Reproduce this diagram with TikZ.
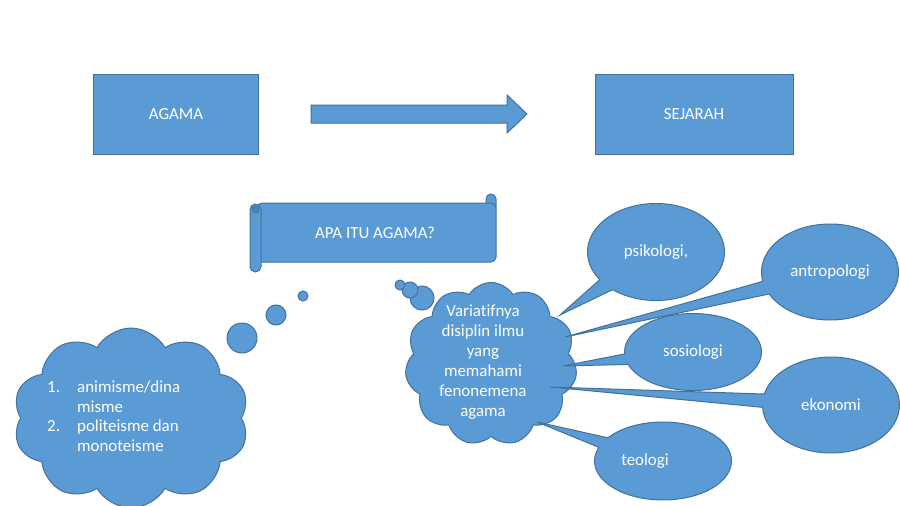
\documentclass[tikz,border=0pt]{standalone}
\usepackage{fontspec}
\setmainfont[Ligatures=NoCommon]{Carlito}
\usetikzlibrary{shapes.symbols,shapes.callouts,shapes.geometric}
\definecolor{bfill}{HTML}{5B9BD5}
\definecolor{bline}{HTML}{41719C}
\definecolor{bdark}{HTML}{4A84B8}
\tikzset{
  shp/.style={fill=bfill, draw=bline, line width=1pt},
  txt/.style={font=\fontsize{16.9}{20}\selectfont, text=white},
  boxnode/.style={shp, txt, rectangle, inner sep=0pt},
  callnode/.style={shp, txt, ellipse callout, callout pointer arc=16, inner sep=0pt},
  cloudnode/.style={shp, cloud, inner sep=0pt},
  bubble/.style={shp, circle, inner sep=0pt},
}
\begin{document}
\begin{tikzpicture}[x=1pt,y=-1pt]
\fill[white] (0,0) rectangle (900,506);
\useasboundingbox (0,0) rectangle (900,506);

% top boxes
\node[boxnode, minimum width=165pt, minimum height=80pt] (agama) at (176,114) {AGAMA};
\node[boxnode, minimum width=198pt, minimum height=80pt] (sejarah) at (694,114) {SEJARAH};
% block arrow
\filldraw[shp] (311,105) -- (507,105) -- (507,95) -- (527,114) -- (507,133) -- (507,123) -- (311,123) -- cycle;

% scroll
\filldraw[shp, rounded corners=5pt] (486,194) rectangle (496,212);
\filldraw[shp, rounded corners=5pt] (257,203) rectangle (496,262);
\filldraw[shp, rounded corners=5.5pt] (250,204) rectangle (261,272);
\filldraw[fill=bdark, draw=bline, line width=0.8pt] (255.5,209.5) circle[radius=3.5pt];
\node[txt] (apa) at (375,233) {APA ITU AGAMA?};

% left cloud with thought bubbles
\node[cloudnode, cloud puffs=10, cloud puff arc=120, aspect=1.32,
      minimum width=236pt, minimum height=180pt] (lcloud) at (131,418) {};
\node[bubble, minimum size=30pt] (lb1) at (242,338) {};
\node[bubble, minimum size=20pt] (lb2) at (276,315) {};
\node[bubble, minimum size=10pt] (lb3) at (303,296) {};
\node[txt, anchor=base west, inner sep=0pt] (n1) at (47,392) {1.};
\node[txt, anchor=base west, inner sep=0pt] (t1) at (77,392) {animisme/dina};
\node[txt, anchor=base west, inner sep=0pt] (t1b) at (77,412) {misme};
\node[txt, anchor=base west, inner sep=0pt] (n2) at (47,431) {2.};
\node[txt, anchor=base west, inner sep=0pt] (t2) at (77,431) {politeisme dan};
\node[txt, anchor=base west, inner sep=0pt] (t2b) at (77,451) {monoteisme};

% middle cloud
\node[cloudnode, cloud puffs=11, cloud puff arc=115, aspect=1.05,
      minimum width=172pt, minimum height=163pt] (mcloud) at (491,364) {};
\node[bubble, minimum size=24pt] (mb1) at (422,298) {};
\node[bubble, minimum size=16pt] (mb2) at (410,290) {};
\node[bubble, minimum size=10pt] (mb3) at (400,285) {};
\node[txt, align=center] (mtext) at (483,362) {Variatifnya\\disiplin ilmu\\yang\\memahami\\fenonemena\\agama};

% callouts
\node[callnode, minimum width=137pt, minimum height=97pt,
      callout absolute pointer={(560,315)}] (psi) at (656,252) {psikologi,};
\node[callnode, minimum width=137pt, minimum height=96pt,
      callout absolute pointer={(565,337)}] (ant) at (830,272) {antropologi};
\node[callnode, minimum width=137pt, minimum height=77pt,
      callout absolute pointer={(563,366)}] (sos) at (693,352) {sosiologi};
\node[callnode, minimum width=137pt, minimum height=96pt,
      callout absolute pointer={(550,387)}] (eko) at (831,405) {ekonomi};
\node[callnode, minimum width=137pt, minimum height=78pt,
      callout absolute pointer={(537,422)}] (teo) at (663,461) {\hspace*{-36pt}teologi};
\end{tikzpicture}
\end{document}
